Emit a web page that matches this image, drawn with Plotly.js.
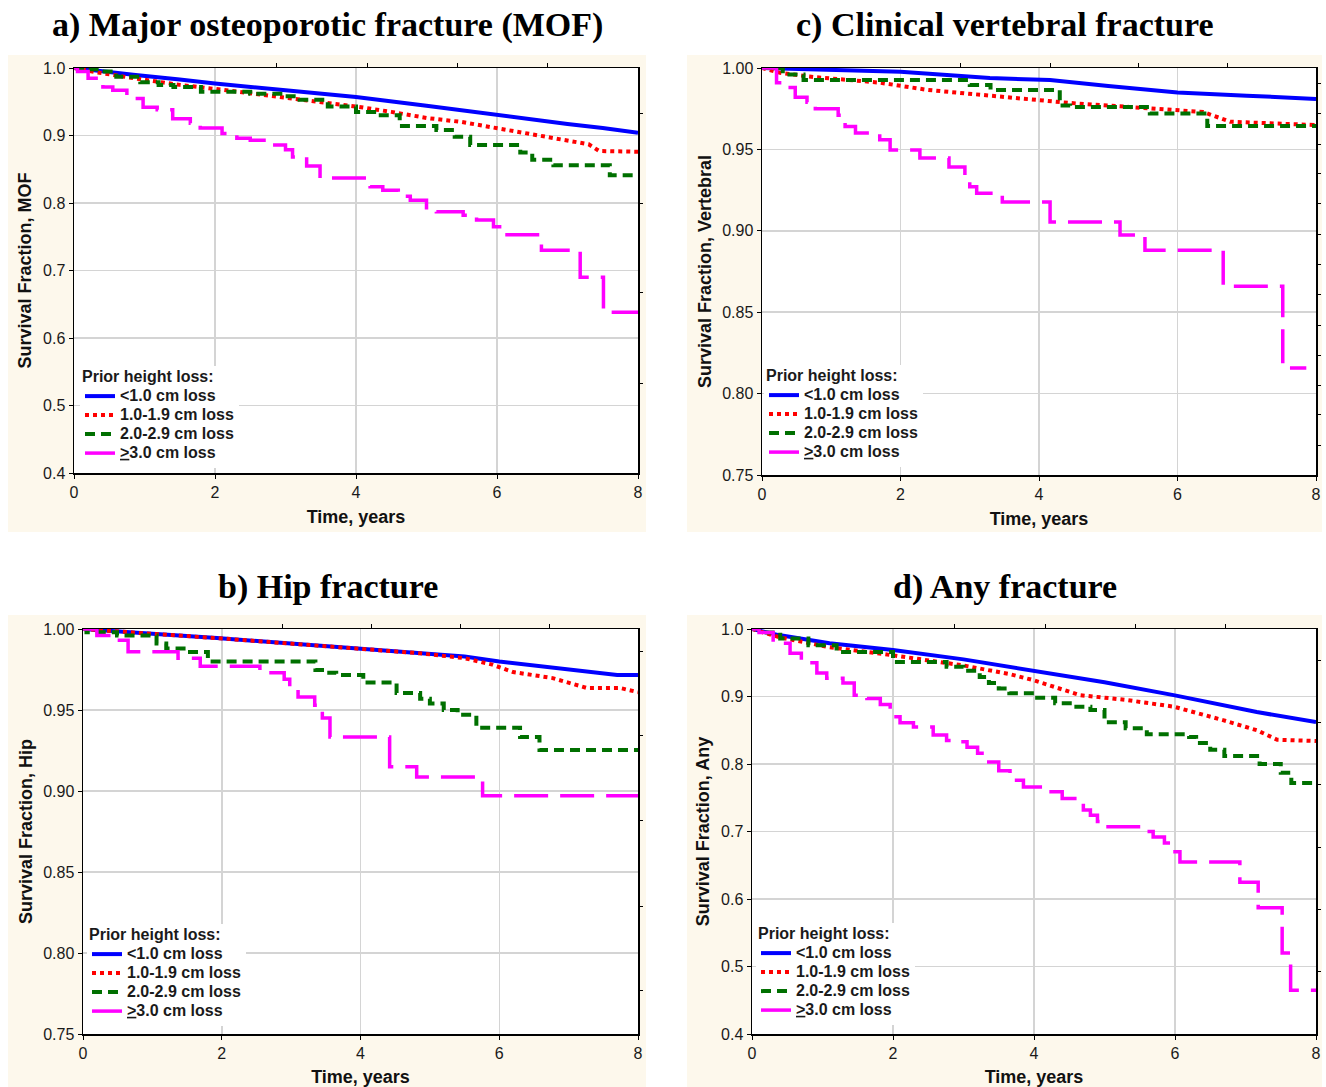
<!DOCTYPE html>
<html>
<head>
<meta charset="utf-8">
<script src="https://cdn.plot.ly/plotly-3.0.1.min.js"></script>
<style>html,body{margin:0;padding:0;background:#fff;}#chart{width:1326px;height:1087px;}</style>
</head>
<body>
<div id="chart"></div>
<script>
// ---------- Data ----------
const seriesNames = ["&lt;1.0 cm loss", "1.0-1.9 cm loss", "2.0-2.9 cm loss", "<u>></u>3.0 cm loss"];
const panelTitles = ["a) Major osteoporotic fracture (MOF)", "c) Clinical vertebral fracture", "b) Hip fracture", "d) Any fracture"];
const yTitles = ["Survival Fraction, MOF", "Survival Fraction, Vertebral", "Survival Fraction, Hip", "Survival Fraction, Any"];
const xTitle = "Time, years";
const legendTitle = "Prior height loss:";
const xTicks = [0, 2, 4, 6, 8];
const yTicksWide = [0.4, 0.5, 0.6, 0.7, 0.8, 0.9, 1.0];
const yTicksNarrow = [0.75, 0.80, 0.85, 0.90, 0.95, 1.00];
// unlabeled mirror ticks on the top and right frame edges
const topFrameTicks = [2.87, 4.16, 5.44, 6.72];
const rightTicksMOF = [0.9333, 0.8, 0.6667, 0.5333];
const rightTicksVert = [0.9906, 0.9722, 0.9531, 0.9353, 0.9165, 0.8979, 0.879, 0.8606, 0.8421, 0.8237, 0.8052, 0.7869, 0.7684];
const rightTicksHip = [0.986, 0.934, 0.8815, 0.829, 0.777];
const rightTicksAny = [0.954, 0.862, 0.769, 0.677, 0.585, 0.492];

// a) MOF
const mofT_lt1 = [0, 0.3, 0.84, 1.5, 2, 3, 3.63, 4, 5, 6, 7, 7.5, 8];
const mofS_lt1 = [1.0, 0.996, 0.99, 0.983, 0.977, 0.967, 0.96, 0.957, 0.944, 0.930, 0.917, 0.911, 0.904];
const mofT_1to2 = [0, 0.3, 0.84, 1.5, 2, 2.73, 3.63, 4, 4.5, 5, 5.5, 6, 6.5, 7, 7.3, 7.45, 8];
const mofS_1to2 = [1.0, 0.994, 0.985, 0.975, 0.969, 0.96, 0.948, 0.943, 0.935, 0.926, 0.92, 0.911, 0.902, 0.893, 0.887, 0.877, 0.876];
const mofT_2to3 = [0, 0.15, 0.37, 0.6, 0.94, 1.2, 1.41, 1.8, 2.5, 2.97, 3.2, 3.6, 4.0, 4.3, 4.62, 5.14, 5.4, 5.62, 6.33, 6.5, 6.8, 7.6, 8];
const mofS_2to3 = [1, 0.998, 0.995, 0.987, 0.979, 0.975, 0.972, 0.965, 0.962, 0.958, 0.953, 0.943, 0.935, 0.93, 0.914, 0.908, 0.898, 0.886, 0.875, 0.864, 0.856, 0.841, 0.841];
const mofT_ge3 = [0, 0.05, 0.2, 0.41, 0.55, 0.75, 0.98, 1.18, 1.4, 1.65, 1.79, 2.1, 2.31, 2.5, 2.75, 3.0, 3.1, 3.3, 3.49, 4.2, 4.38, 4.6, 4.77, 5.0, 5.14, 5.52, 5.71, 5.95, 6.1, 6.63, 7.18, 7.51, 8];
const mofS_ge3 = [1, 0.995, 0.985, 0.972, 0.967, 0.955, 0.942, 0.938, 0.925, 0.918, 0.911, 0.903, 0.896, 0.893, 0.886, 0.879, 0.868, 0.855, 0.837, 0.824, 0.819, 0.81, 0.804, 0.793, 0.787, 0.782, 0.775, 0.765, 0.753, 0.73, 0.69, 0.638, 0.638];

// c) Clinical vertebral
const vertT_lt1 = [0, 1, 2, 3.29, 4.16, 5, 6, 7, 8];
const vertS_lt1 = [1, 0.999, 0.9977, 0.9938, 0.9926, 0.989, 0.985, 0.983, 0.981];
const vertT_1to2 = [0, 0.26, 0.74, 1.7, 2.4, 3.6, 4.26, 4.45, 6.37, 6.5, 6.76, 7.96, 8];
const vertS_1to2 = [1, 0.997, 0.9945, 0.991, 0.9865, 0.982, 0.979, 0.9785, 0.973, 0.971, 0.967, 0.965, 0.963];
const vertT_2to3 = [0, 0.3, 0.6, 3.0, 3.3, 4.3, 4.45, 5.6, 6.43, 8];
const vertS_2to3 = [1, 0.996, 0.9926, 0.9896, 0.9865, 0.977, 0.976, 0.972, 0.9644, 0.9644];
const vertT_ge3 = [0, 0.21, 0.3, 0.48, 0.65, 0.77, 1.1, 1.2, 1.35, 1.7, 1.85, 2.28, 2.7, 2.93, 3.0, 3.1, 3.47, 4.16, 5.17, 5.53, 6.66, 7.52, 7.86];
const vertS_ge3 = [1, 0.991, 0.988, 0.982, 0.979, 0.975, 0.971, 0.964, 0.96, 0.956, 0.9497, 0.9447, 0.9392, 0.933, 0.927, 0.923, 0.9177, 0.9054, 0.8974, 0.888, 0.866, 0.8157, 0.8157];

// b) Hip
const hipT_lt1 = [0, 0.3, 1, 1.93, 3, 3.41, 4.86, 5.5, 6.0, 6.77, 7.7, 8];
const hipS_lt1 = [1, 0.999, 0.997, 0.9944, 0.991, 0.990, 0.985, 0.983, 0.98, 0.976, 0.9716, 0.9716];
const hipT_1to2 = [0, 0.3, 1, 1.93, 3, 3.41, 4.86, 5.5, 5.9, 6.2, 6.77, 7.26, 7.74, 8];
const hipS_1to2 = [1, 0.999, 0.997, 0.9944, 0.991, 0.990, 0.985, 0.982, 0.978, 0.9734, 0.9697, 0.9636, 0.9636, 0.961];
const hipT_2to3 = [0, 0.05, 0.49, 1.06, 1.2, 1.5, 1.8, 3.35, 3.5, 3.65, 4.04, 4.52, 4.86, 5.0, 5.2, 5.4, 5.67, 6.3, 6.58, 8];
const hipS_2to3 = [1, 0.998, 0.996, 0.991, 0.988, 0.9858, 0.98, 0.9747, 0.973, 0.9716, 0.967, 0.9605, 0.957, 0.954, 0.95, 0.947, 0.939, 0.9333, 0.9253, 0.9253];
const hipT_ge3 = [0, 0.2, 0.4, 0.65, 1.37, 1.69, 2.55, 2.9, 2.98, 3.1, 3.34, 3.45, 3.56, 4.42, 4.81, 5.76, 8];
const hipS_ge3 = [1, 0.996, 0.993, 0.986, 0.982, 0.977, 0.973, 0.969, 0.964, 0.958, 0.953, 0.945, 0.9333, 0.915, 0.9086, 0.897, 0.897];

// d) Any
const anyT_lt1 = [0, 0.38, 1.1, 2, 3, 3.66, 4, 5, 5.98, 7.16, 8];
const anyS_lt1 = [1, 0.991, 0.979, 0.969, 0.955, 0.944, 0.939, 0.921, 0.902, 0.877, 0.862];
const anyT_1to2 = [0, 0.38, 1.1, 2, 3, 3.66, 4, 4.65, 5.3, 5.98, 6.68, 7.16, 7.45, 8];
const anyS_1to2 = [1, 0.988, 0.973, 0.961, 0.946, 0.933, 0.924, 0.902, 0.895, 0.885, 0.865, 0.85, 0.836, 0.834];
const anyT_2to3 = [0, 0.1, 0.4, 0.8, 1.2, 2, 2.76, 3.0, 3.23, 3.36, 3.5, 3.65, 4, 4.3, 4.55, 4.8, 5.0, 5.3, 5.6, 6.2, 6.3, 6.5, 6.7, 7.2, 7.5, 7.65, 8];
const anyS_2to3 = [1, 0.995, 0.986, 0.976, 0.966, 0.951, 0.944, 0.938, 0.929, 0.92, 0.912, 0.905, 0.898, 0.89, 0.885, 0.88, 0.862, 0.853, 0.844, 0.84, 0.831, 0.821, 0.812, 0.80, 0.787, 0.772, 0.772];
const anyT_ge3 = [0, 0.1, 0.3, 0.54, 0.7, 0.92, 1.06, 1.29, 1.45, 1.63, 1.82, 1.96, 2.1, 2.29, 2.57, 2.76, 2.9, 3.05, 3.2, 3.33, 3.5, 3.66, 3.85, 4.13, 4.4, 4.7, 4.8, 4.9, 5.05, 5.55, 5.69, 5.85, 5.95, 6.07, 6.92, 7.18, 7.52, 7.64, 8];
const anyS_ge3 = [1, 0.995, 0.979, 0.964, 0.95, 0.935, 0.927, 0.92, 0.902, 0.897, 0.888, 0.87, 0.861, 0.855, 0.843, 0.835, 0.833, 0.825, 0.816, 0.803, 0.79, 0.776, 0.766, 0.759, 0.749, 0.732, 0.724, 0.715, 0.707, 0.7, 0.692, 0.683, 0.67, 0.655, 0.625, 0.587, 0.52, 0.465, 0.465];

// ---------- Styling ----------
const W = 1326, H = 1087;
const SANS = "Liberation Sans, Arial, sans-serif";
const SERIF = "Liberation Serif, Times New Roman, serif";
const styles = [
  {color: "#0000ff", width: 4, dash: "solid", shape: "linear"},
  {color: "#ff0000", width: 4, dash: "dot", shape: "linear"},
  {color: "#007000", width: 4, dash: "10px,6px", shape: "hv"},
  {color: "#ff00ff", width: 3.5, dash: "34px,12px", shape: "hv"}
];
const big = s => '<span style="font-size:16px">' + s + '</span>';

// panel geometry in pixels: plot area and cream background
const panels = [
  {plot: [74, 638, 68, 473], bg: [8, 646, 55, 532], yt: yTicksWide, fmt: ".1f", title: [327, 25], legend: [80, 366], rt: rightTicksMOF,
   data: [[mofT_lt1, mofS_lt1], [mofT_1to2, mofS_1to2], [mofT_2to3, mofS_2to3], [mofT_ge3, mofS_ge3]]},
  {plot: [762, 1316, 68, 475], bg: [687, 1322, 55, 532], yt: yTicksNarrow, fmt: ".2f", title: [1005, 25], legend: [764, 365], rt: rightTicksVert,
   data: [[vertT_lt1, vertS_lt1], [vertT_1to2, vertS_1to2], [vertT_2to3, vertS_2to3], [vertT_ge3, vertS_ge3]]},
  {plot: [83, 638, 629, 1034], bg: [8, 646, 615, 1087], yt: yTicksNarrow, fmt: ".2f", title: [328, 587], legend: [87, 924], rt: rightTicksHip,
   data: [[hipT_lt1, hipS_lt1], [hipT_1to2, hipS_1to2], [hipT_2to3, hipS_2to3], [hipT_ge3, hipS_ge3]]},
  {plot: [752, 1316, 629, 1034], bg: [687, 1322, 615, 1087], yt: yTicksWide, fmt: ".1f", title: [1005, 587], legend: [756, 923], rt: rightTicksAny,
   data: [[anyT_lt1, anyS_lt1], [anyT_1to2, anyS_1to2], [anyT_2to3, anyS_2to3], [anyT_ge3, anyS_ge3]]}
];

const traces = [];
const layout = {
  width: W, height: H,
  margin: {l: 0, r: 0, t: 0, b: 0},
  paper_bgcolor: "#ffffff",
  plot_bgcolor: "#ffffff",
  font: {family: SANS, size: 16, color: "#1a1a1a"},
  shapes: [], annotations: []
};

panels.forEach((p, i) => {
  const n = i + 1;
  const sfx = n === 1 ? "" : String(n);
  const sfx2 = String(n + 4);
  const xa = "x" + sfx, ya = "y" + sfx;
  const xb = "x" + sfx2, yb = "y" + sfx2;
  const lg = "legend" + sfx;
  p.data.forEach((d, k) => {
    const s = styles[k];
    traces.push({
      type: "scatter", mode: "lines", x: d[0], y: d[1],
      xaxis: xa, yaxis: ya, legend: lg, name: big(seriesNames[k]),
      line: {color: s.color, width: s.width, dash: s.dash, shape: s.shape}
    });
  });
  // empty trace so the mirror-tick axes are instantiated
  traces.push({type: "scatter", mode: "lines", x: [], y: [], xaxis: xb, yaxis: yb, showlegend: false, hoverinfo: "skip"});

  const ymin = p.yt[0], ymax = p.yt[p.yt.length - 1];
  const axisCommon = {
    showline: true, linecolor: "#000", linewidth: 1.5, mirror: true,
    showgrid: true, gridcolor: "#d4d4d4", gridwidth: 1.5, zeroline: false,
    ticks: "outside", ticklen: 4, tickcolor: "#000", tickwidth: 1,
    tickfont: {family: SANS, size: 16, color: "#1a1a1a"}
  };
  const mirrorCommon = {
    showline: false, showgrid: false, zeroline: false, showticklabels: false,
    ticks: "outside", ticklen: 4, tickcolor: "#000", tickwidth: 1
  };
  layout["xaxis" + sfx] = Object.assign({}, axisCommon, {
    domain: [p.plot[0] / W, p.plot[1] / W], anchor: ya, range: [0, 8],
    tickvals: xTicks, ticktext: xTicks.map(String),
    title: {text: xTitle, font: {family: SANS, size: 18, weight: "bold", color: "#111"}, standoff: 10}
  });
  layout["yaxis" + sfx] = Object.assign({}, axisCommon, {
    domain: [1 - p.plot[3] / H, 1 - p.plot[2] / H], anchor: xa, range: [ymin, ymax],
    tickvals: p.yt, tickformat: p.fmt,
    title: {text: yTitles[i], font: {family: SANS, size: 18, weight: "bold", color: "#111"}, standoff: 6}
  });
  layout["xaxis" + sfx2] = Object.assign({}, mirrorCommon, {
    overlaying: xa, side: "top", anchor: yb, range: [0, 8], tickvals: topFrameTicks
  });
  layout["yaxis" + sfx2] = Object.assign({}, mirrorCommon, {
    overlaying: ya, side: "right", anchor: xb, range: [ymin, ymax], tickvals: p.rt
  });
  layout[lg] = {
    x: p.legend[0] / W, y: 1 - p.legend[1] / H, xanchor: "left", yanchor: "top",
    bgcolor: "#ffffff", borderwidth: 0, tracegroupgap: 0, itemwidth: 30,
    title: {text: big(legendTitle), font: {family: SANS, size: 12, weight: "bold", color: "#1a1a1a"}},
    font: {family: SANS, size: 12, weight: "bold", color: "#1a1a1a"}
  };
  // cream panel background, then white plotting area on top of it (grid stays above shapes)
  layout.shapes.push({
    type: "rect", xref: "paper", yref: "paper", layer: "below",
    x0: p.bg[0] / W, x1: p.bg[1] / W, y0: 1 - p.bg[3] / H, y1: 1 - p.bg[2] / H,
    fillcolor: "#fdf8ec", line: {width: 0}
  });
  layout.shapes.push({
    type: "rect", xref: xa + " domain", yref: ya + " domain", layer: "below",
    x0: 0, x1: 1, y0: 0, y1: 1, fillcolor: "#ffffff", line: {width: 0}
  });
  layout.annotations.push({
    xref: "paper", yref: "paper", x: p.title[0] / W, y: 1 - p.title[1] / H,
    xanchor: "center", yanchor: "middle", showarrow: false,
    text: panelTitles[i], font: {family: SERIF, size: 34, weight: "bold", color: "#000"}
  });
});

Plotly.newPlot("chart", traces, layout, {staticPlot: true, displayModeBar: false});
</script>
</body>
</html>
